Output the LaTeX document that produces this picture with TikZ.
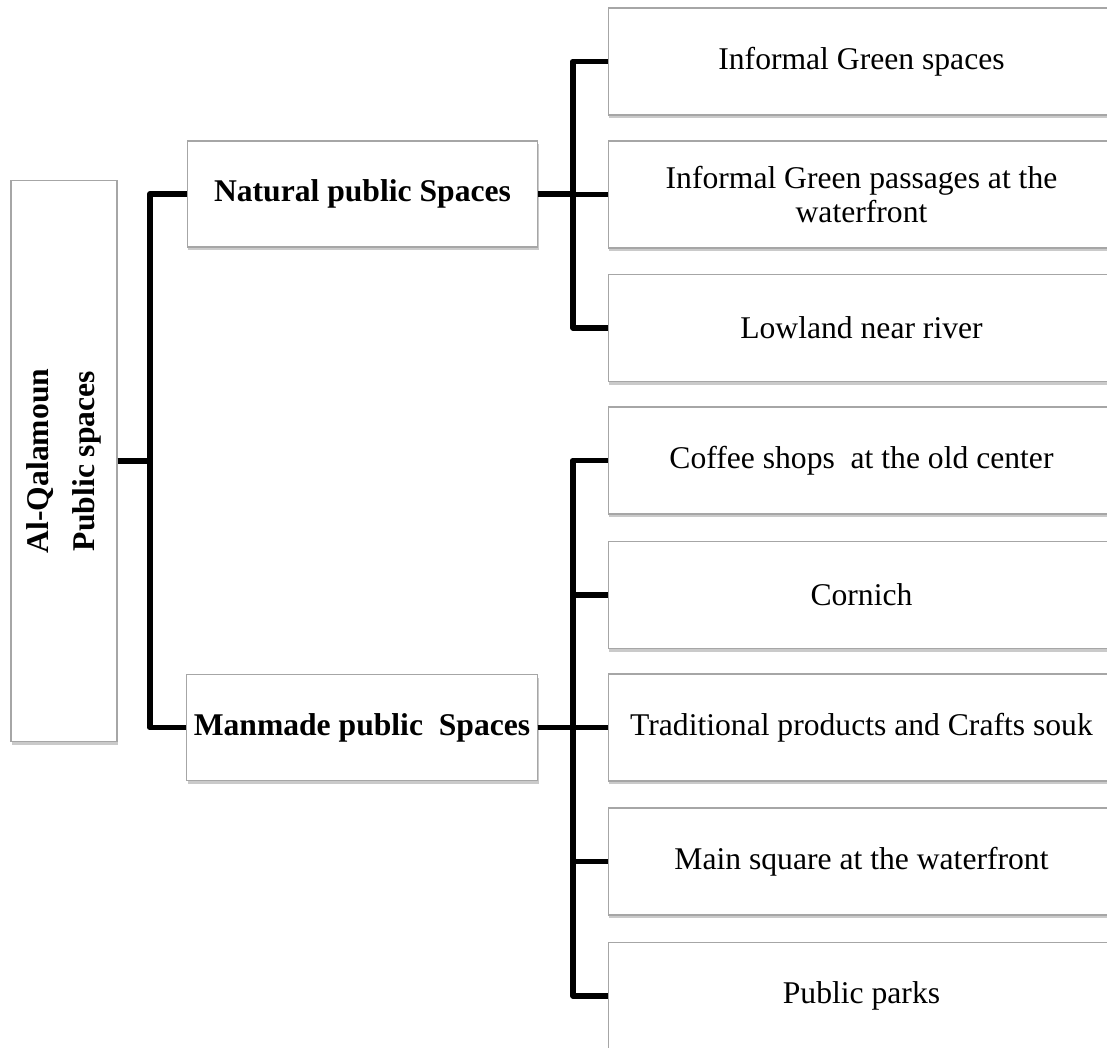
\documentclass[tikz,border=0pt]{standalone}
\usepackage{fontspec}
\setmainfont{Liberation Serif}
\usetikzlibrary{shadows}

\tikzset{
  box/.style={draw=gray!70, line width=0.6pt, fill=white, inner sep=0pt, align=center,
    drop shadow={shadow xshift=0.8pt, shadow yshift=-1.8pt, fill=gray!70, opacity=0.6},
    font=\fontsize{18}{19}\selectfont},
  mainbox/.style={box, minimum width=7.02cm, minimum height=2.12cm, font=\fontsize{18}{19}\selectfont\bfseries},
  kidbox/.style={box, minimum width=10.14cm, minimum height=2.14cm},
  link/.style={line width=3.3pt, line join=round}
}

\begin{document}
\begin{tikzpicture}[x=0.02cm, y=-0.02cm]
      \useasboundingbox (0,0) rectangle (1107,1048);
      \clip (0,0) rectangle (1107,1048);
      \node[box, rotate=90, minimum width=11.24cm, minimum height=2.12cm,
        font=\fontsize{18}{26.5}\selectfont\bfseries] (root) at (64,461) {Al-Qalamoun\\Public spaces};
      \node[mainbox] (nat) at (362.5,194) {Natural public Spaces};
      \node[mainbox] (man) at (362,727.5) {Manmade public~ Spaces};
      \node[kidbox] (g1) at (861.5,61.5) {Informal Green spaces};
      \node[kidbox] (g2) at (861.5,194.5) {Informal Green passages at the\\waterfront};
      \node[kidbox] (g3) at (861.5,328) {Lowland near river};
      \node[kidbox] (m1) at (861.5,460.5) {Coffee shops~ at the old center};
      \node[kidbox] (m2) at (861.5,595) {Cornich};
      \node[kidbox] (m3) at (861.5,727.5) {Traditional products and Crafts souk};
      \node[kidbox] (m4) at (861.5,861.5) {Main square at the waterfront};
      \node[kidbox] (m5) at (861.5,996) {Public parks};
      \coordinate (rootbus) at (150,0);
      \coordinate (kidbus) at (573,0);
      \draw[link] (root.south) -- (root.south -| rootbus) |- (nat.west);
      \draw[link] (root.south) -- (root.south -| rootbus) |- (man.west);
      \foreach \k in {g1,g2,g3}
        \draw[link] (nat.east) -- (nat.east -| kidbus) |- (\k.west);
      \foreach \k in {m1,m2,m3,m4,m5}
        \draw[link] (man.east) -- (man.east -| kidbus) |- (\k.west);
    \end{tikzpicture}
\end{document}
